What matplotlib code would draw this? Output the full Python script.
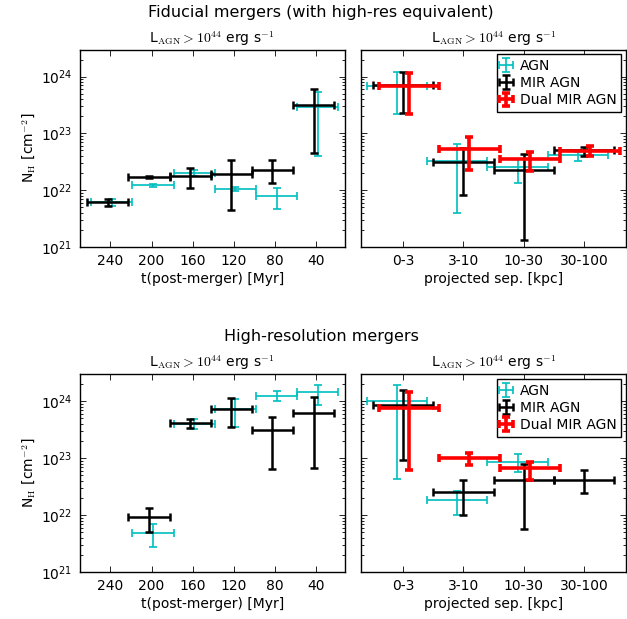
import matplotlib
matplotlib.use('Agg')
import matplotlib.pyplot as plt
import numpy as np

plt.rcParams['font.family'] = ['DejaVu Sans']
plt.rcParams['mathtext.fontset'] = 'cm'

# ---------------- data ----------------
t_bins = [240, 200, 160, 120, 80, 40]          # Myr post-merger (bin centres)
t_halfwidth = 20
sep_labels = ['0-3', '3-10', '10-30', '30-100']
sep_halfwidth = 0.5

# Fiducial, vs time
fid_t_agn_y  = [6.1e21, 1.21e22, 2.02e22, 1.04e22, 7.8e21, 2.9e23]
fid_t_agn_lo = [5.2e21, 1.13e22, 1.79e22, 9.6e21, 4.6e21, 4.0e22]
fid_t_agn_hi = [7.1e21, 1.29e22, 2.25e22, 1.13e22, 1.11e22, 5.3e23]
fid_t_mir_y  = [6.2e21, 1.69e22, 1.80e22, 1.90e22, 2.25e22, 3.2e23]
fid_t_mir_lo = [5.3e21, 1.62e22, 1.10e22, 4.4e21, 1.36e22, 4.56e22]
fid_t_mir_hi = [7.1e21, 1.76e22, 2.48e22, 3.4e22, 3.4e22, 6.05e23]

# Fiducial, vs separation
fid_s_agn_y   = [6.8e23, 3.3e22, 2.6e22, 4.2e22]
fid_s_agn_lo  = [2.19e23, 4.0e21, 1.35e22, 3.3e22]
fid_s_agn_hi  = [1.19e24, 6.5e22, 3.6e22, 4.7e22]
fid_s_mir_y   = [7.0e23, 3.2e22, 2.25e22, 5.0e22]
fid_s_mir_lo  = [2.3e23, 8.2e21, 1.35e21, 4.0e22]
fid_s_mir_hi  = [1.21e24, 5.6e22, 4.4e22, 5.8e22]
fid_s_dual_y  = [6.8e23, 5.4e22, 3.5e22, 4.9e22]
fid_s_dual_lo = [2.2e23, 2.3e22, 2.2e22, 4.0e22]
fid_s_dual_hi = [1.18e24, 8.7e22, 4.7e22, 6.0e22]

# High-resolution, vs time
hr_t_bins   = [200, 160, 120, 80, 40]
hr_t_agn_y  = [4.9e21, 4.0e23, 7.4e23, 1.21e24, 1.43e24]
hr_t_agn_lo = [2.8e21, 3.3e23, 3.55e23, 1.0e24, 8.7e23]
hr_t_agn_hi = [7.1e21, 4.9e23, 1.09e24, 1.49e24, 1.92e24]
hr_t_mir_y  = [9.2e21, 4.2e23, 7.4e23, 3.06e23, 6.3e23]
hr_t_mir_lo = [5.1e21, 3.4e23, 3.55e23, 6.5e22, 6.6e22]
hr_t_mir_hi = [1.35e22, 4.9e23, 1.13e24, 5.3e23, 1.19e24]

# High-resolution, vs separation
hr_s_agn_idx  = [0, 1, 2]
hr_s_agn_y    = [9.9e23, 1.82e22, 8.6e22]
hr_s_agn_lo   = [4.35e22, 9.9e21, 5.6e22]
hr_s_agn_hi   = [1.95e24, 2.67e22, 1.18e23]
hr_s_mir_idx  = [0, 1, 2, 3]
hr_s_mir_y    = [8.6e23, 2.56e22, 4.2e22, 4.2e22]
hr_s_mir_lo   = [9.2e22, 1.01e22, 5.8e21, 2.46e22]
hr_s_mir_hi   = [1.59e24, 4.1e22, 8.0e22, 6.3e22]
hr_s_dual_idx = [0, 1, 2]
hr_s_dual_y   = [7.5e23, 9.9e22, 6.6e22]
hr_s_dual_lo  = [6.1e22, 7.5e22, 4.1e22]
hr_s_dual_hi  = [1.47e24, 1.23e23, 8.4e22]

# ---------------- styles ----------------
sty = {
    'AGN':          dict(color='c', lw=1.2, capthick=1.2, capsize=3),
    'MIR AGN':      dict(color='k', lw=1.8, capthick=1.8, capsize=3),
    'Dual MIR AGN': dict(color='r', lw=2.6, capthick=2.6, capsize=3),
}

W, H = 627, 619
fig = plt.figure(figsize=(W / 100, H / 100), dpi=100)

def box(x0, x1, y0, y1):
    return [x0 / W, 1 - y1 / H, (x1 - x0) / W, (y1 - y0) / H]

ax_tl = fig.add_axes(box(79.5, 345, 49.5, 247))
ax_tr = fig.add_axes(box(361, 626, 49.5, 247))
ax_bl = fig.add_axes(box(79.5, 345, 374, 572))
ax_br = fig.add_axes(box(361, 626, 374, 572))

def eb(ax, x, y, lo, hi, xerr, label):
    y = np.asarray(y); lo = np.asarray(lo); hi = np.asarray(hi)
    return ax.errorbar(x, y, yerr=[y - lo, hi - y], xerr=xerr, fmt='none',
                       label=label, **sty[label])

subtitle = r'L$_{\rm AGN}>10^{44}$ erg s$^{-1}$'
ylab = r'N$_{\rm H}$ [cm$^{-2}$]'

def style(ax):
    ax.set_yscale('log')
    ax.set_ylim(1e21, 3e24)
    ax.tick_params(which='both', direction='in', top=True, right=True,
                   labelsize=10, width=0.6)
    ax.tick_params(which='major', length=4.5, pad=5)
    ax.tick_params(which='minor', length=2.5)
    for s in ax.spines.values():
        s.set_linewidth(1.0)
    ax.set_title(subtitle, fontsize=10, pad=5)

# time panels
for ax, tb, ay, alo, ahi, my, mlo, mhi in [
        (ax_tl, t_bins, fid_t_agn_y, fid_t_agn_lo, fid_t_agn_hi,
         fid_t_mir_y, fid_t_mir_lo, fid_t_mir_hi),
        (ax_bl, hr_t_bins, hr_t_agn_y, hr_t_agn_lo, hr_t_agn_hi,
         hr_t_mir_y, hr_t_mir_lo, hr_t_mir_hi)]:
    tb = np.asarray(tb, float)
    eb(ax, tb - 1.5, ay, alo, ahi, t_halfwidth, 'AGN')
    eb(ax, tb + 2.5, my, mlo, mhi, t_halfwidth, 'MIR AGN')
    style(ax)
    ax.set_xlim(270, 12)
    ax.set_xticks(t_bins)
    ax.set_xticklabels([str(t) for t in t_bins])
    ax.set_xlabel('t(post-merger) [Myr]', fontsize=10, labelpad=3)
    ax.set_ylabel(ylab, fontsize=10, labelpad=2)

# separation panels
for ax, series in [
        (ax_tr, [('AGN', [0, 1, 2, 3], fid_s_agn_y, fid_s_agn_lo, fid_s_agn_hi),
                 ('MIR AGN', [0, 1, 2, 3], fid_s_mir_y, fid_s_mir_lo, fid_s_mir_hi),
                 ('Dual MIR AGN', [0, 1, 2, 3], fid_s_dual_y, fid_s_dual_lo, fid_s_dual_hi)]),
        (ax_br, [('AGN', hr_s_agn_idx, hr_s_agn_y, hr_s_agn_lo, hr_s_agn_hi),
                 ('MIR AGN', hr_s_mir_idx, hr_s_mir_y, hr_s_mir_lo, hr_s_mir_hi),
                 ('Dual MIR AGN', hr_s_dual_idx, hr_s_dual_y, hr_s_dual_lo, hr_s_dual_hi)])]:
    offs = {'AGN': -0.1, 'MIR AGN': 0.0, 'Dual MIR AGN': 0.1}
    for lab, idx, y, lo, hi in series:
        eb(ax, np.asarray(idx, float) + offs[lab], y, lo, hi, sep_halfwidth, lab)
    style(ax)
    ax.set_xlim(-0.7, 3.7)
    ax.set_xticks(range(len(sep_labels)))
    ax.set_xticklabels(sep_labels)
    ax.tick_params(axis='y', which='both', labelleft=False)
    ax.set_xlabel('projected sep. [kpc]', fontsize=10, labelpad=3)
    leg = ax.legend(loc='upper right', fontsize=10, handlelength=0.7,
                    handletextpad=0.6, labelspacing=0.22, borderpad=0.35,
                    borderaxespad=0.35, fancybox=False, framealpha=1,
                    edgecolor='k')
    leg.get_frame().set_linewidth(1.0)

fig.text(0.512, 1 - 12.5 / H, 'Fiducial mergers (with high-res equivalent)',
         ha='center', va='center', fontsize=11.5)
fig.text(0.512, 1 - 337 / H, 'High-resolution mergers',
         ha='center', va='center', fontsize=11.5)

fig.savefig('out.png', dpi=100)
